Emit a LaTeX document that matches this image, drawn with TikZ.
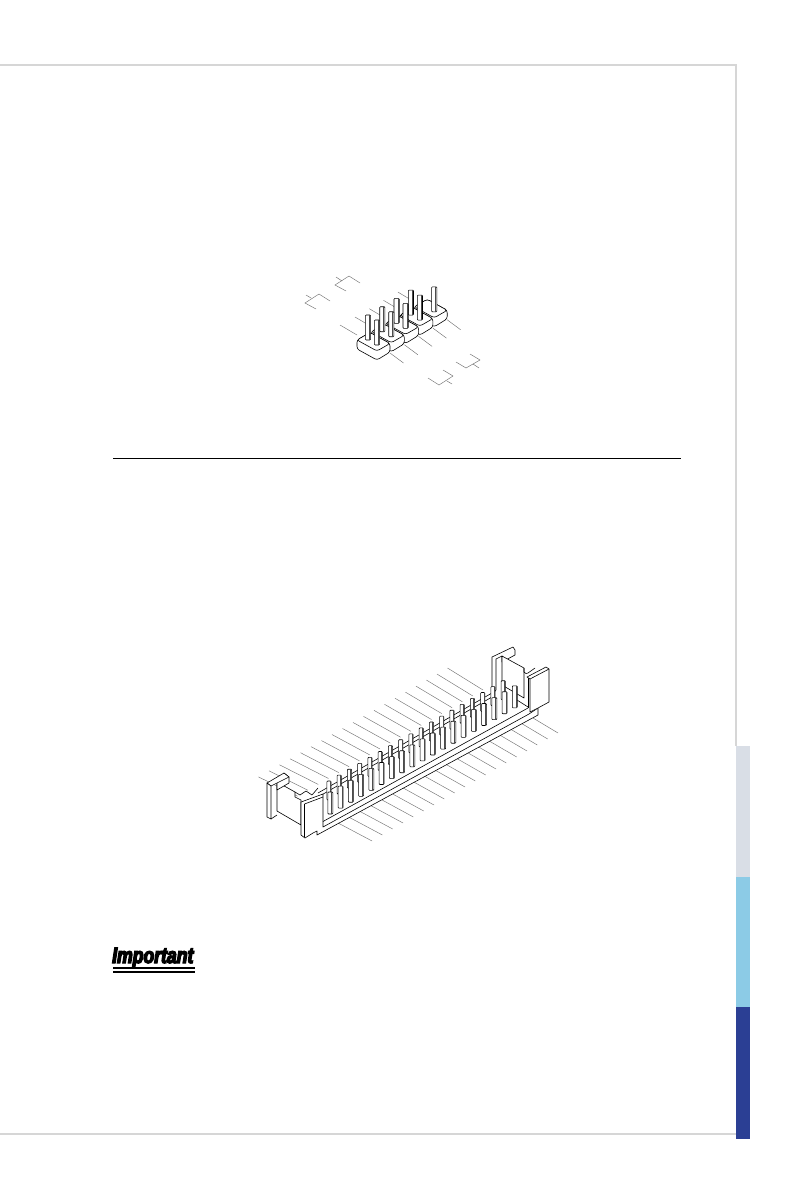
\documentclass[tikz,border=0pt]{standalone}
\usepackage{fontspec}
\setmainfont{Liberation Sans}
\newfontfamily\heavyfont[FakeBold=6, FakeStretch=0.8]{Liberation Sans Bold Italic}
\definecolor{framegrey}{HTML}{D6D6D6}
\definecolor{tabgrey}{HTML}{D9DEE6}
\definecolor{tabsky}{HTML}{8CCBE6}
\definecolor{tabnavy}{HTML}{2B3F94}
\tikzset{
  frameline/.style={framegrey, line width=1.6pt},
  wire/.style={black!55, line width=0.45pt},
  part/.style={black, line width=0.6pt, fill=white, line join=round},
  edge/.style={black, line width=0.6pt, line join=round},
}
% pin with a bright face: #1 = half width, #2 = x, #3 = top, #4 = bottom
\newcommand{\pinbody}[4]{
  \draw[part, rounded corners=0.8pt] ({#2-#1},{#4}) -- ({#2-#1},{#3}) -- ({#2+#1},{#3}) -- ({#2+#1},{#4}) -- cycle;
  \draw[edge, black!70, line width=0.3pt] ({#2+0.45*#1},{#3}) -- ({#2+0.45*#1},{#4});
}
\begin{document}
\begin{tikzpicture}[x=1pt, y=-1pt]
\useasboundingbox (0,0) rectangle (794,1191);
% page frame and side tabs
\draw[frameline] (0,65) -- (736,65) -- (736,746);
\draw[frameline] (0,1134) -- (736,1134);
\fill[tabgrey] (736,746) rectangle (750,877);
\fill[tabsky] (736,877) rectangle (750,1007);
\fill[tabnavy] (736,1007) rectangle (750,1139);
% small header: labels
\foreach \i in {0,...,3} {
  \draw[wire] ({355+14.3*\i},{317-8.3*\i}) -- ({366+14.3*\i},{323.5-8.3*\i});
}
\draw[wire] (340,325) -- (357,335);
\foreach \i in {0,...,4} {
  \draw[wire] ({390+14.3*\i},{353-8.3*\i}) -- ({403.5+14.3*\i},{363-8.3*\i});
}
\draw[wire] (319,294) -- (305,303) -- (316,309);
\draw[wire] (319,294) -- (330,301);
\draw[wire] (306,295) -- (311,298);
\draw[wire] (349,276) -- (335,285) -- (346,291);
\draw[wire] (349,276) -- (360,283);
\draw[wire] (336,277) -- (342,281);
\draw[wire] (480,360) -- (466,368) -- (456,362);
\draw[wire] (480,360) -- (470,354);
\draw[wire] (473,364) -- (479,368);
\draw[wire] (453,376) -- (439,385) -- (428,378);
\draw[wire] (453,376) -- (443,370);
\draw[wire] (447,381) -- (452,384);
% small header: blocks, back to front
\foreach \i in {4,3,2,1,0} {
  \begin{scope}[shift={({14.3*\i},{-8.3*\i})}]
    \draw[part, rounded corners=2.5pt] (357,340) -- (357,349) -- (377,360) -- (390,352) -- (390,343.5) -- (370,332.5) -- cycle;
    \draw[part, rounded corners=2.5pt] (357,340) -- (377,351) -- (390,343.5) -- (370,332.5) -- cycle;
    \ifnum\i<4 \pinbody{2.6}{368}{315}{340} \fi
    \pinbody{2.6}{377}{320}{345}
  \end{scope}
}
% long header: labels
\foreach \i in {0,...,18} {
  \draw[wire] ({447.5-10.5*\i},{668+6.05*\i}) -- ({483-10.3*\i},{690+5.9*\i});
  \draw[wire] ({558-10.33*\i},{733+6*\i}) -- ({528-10.55*\i},{715+6*\i});
}
% long header: far end of the housing
\draw[part] (492,695) -- (492,657) -- (513,647) -- (515,650) -- (515,655) -- (502,662) -- (502,656) -- (496,659) -- (496,690) -- cycle;
\draw[part] (502,656) -- (502,685) -- (524,698) -- (524,672) -- (524,668) -- cycle;
\draw[edge] (524,668) -- (524,672) -- (526,673.5) -- (528,673) -- (535,668);
\draw[edge] (517,700) -- (528,707);
% long header: near end of the housing
\draw[part] (277,782) -- (277,811) -- (301,825) -- (301,800) -- (295,797) -- (295,792) -- cycle;
\draw[part] (284,773) -- (289,777) -- (289,783) -- (277,790) -- (277,782) -- cycle;
\draw[part] (267,783) -- (284,773) -- (289,777) -- (271,786) -- cycle;
\draw[part] (267,783) -- (267,817) -- (271,819) -- (271,786) -- cycle;
\draw[edge] (271,819) -- (277,815);
\draw[edge] (295,792) -- (300,795) -- (306,791) -- (312,795) -- (318,788);
% long header: rear wall strips behind the pins
\draw[edge] (318,793) -- (492,693);
\draw[edge] (318,797) -- (492,697);
% long header: pins, back row then front row
\foreach \i in {17,...,0} {
  \pinbody{2.1}{329+10.25*\i}{781-5.9*\i}{800-5.9*\i}
}
\foreach \i in {18,...,0} {
  \pinbody{2.5}{330.3+10.25*\i}{792-5.9*\i}{814-5.9*\i}
}
% long header: near wall
\draw[edge, fill=white] (323,794) -- (323,827) -- (529,714) -- (538,708) -- (538,715) -- (317,835) -- (317,831) -- (313,833) -- (305,838) -- (301,835) -- (301,802) -- cycle;
\draw[edge] (323,821.5) -- (528,708);
\draw[edge] (304.5,804) -- (304.5,837);
\draw[edge] (304.5,804) -- (323,797);
\draw[edge] (528,708) -- (528,677);
\draw[part] (527,677) -- (546,667) -- (549,669) -- (549,702) -- (538,708) -- (530,712) -- (530,679) -- cycle;
\draw[edge] (530,679) -- (549,669);
% rule and notice
\draw[black, line width=0.8pt] (113,458) -- (681,458);
\node[anchor=base west, inner sep=0pt, font=\heavyfont\fontsize{22}{22}\selectfont] (important) at (112,963) {Important};
\draw[black, line width=1.4pt] (113,968) -- (195,968);
\draw[black, line width=1.4pt] (113,972) -- (195,972);
\end{tikzpicture}
\end{document}
